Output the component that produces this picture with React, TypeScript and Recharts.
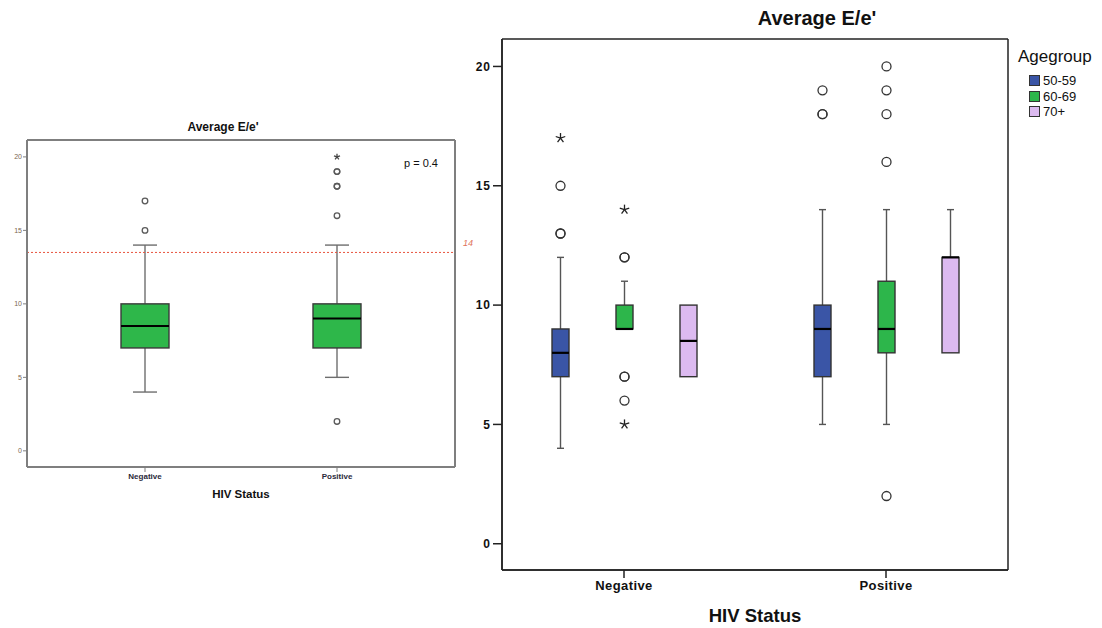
import React from 'react';
import { ComposedChart, Bar, XAxis, YAxis, ReferenceLine, CartesianGrid } from 'recharts';

// ---------- shared ----------
const hivCategories = ['Negative', 'Positive'];
const yTicks = [0, 5, 10, 15, 20];
const yDomain: [number, number] = [-1.1, 21.15];

// ---------- left chart (all ages) ----------
const allMin = [4, 5];
const allQ1 = [7, 7];
const allMedian = [8.5, 9];
const allQ3 = [10, 10];
const allMax = [14, 14];
const allOutliers = [[15, 17], [2, 16, 18, 18, 19, 19]];
const allExtremes = [[], [20]];
const cutoffValue = 13.5;
const cutoffLabel = '14';
const pValueText = 'p = 0.4';

// ---------- right chart (by age group) ----------
const ageGroups = ['50-59', '60-69', '70+'];
const ageColors = ['#3a55a6', '#2db64b', '#dcbaf0'];
// index: [ageGroup][hivCategory]
const ageMin = [[4, 5], [9, 5], [7, 8]];
const ageQ1 = [[7, 7], [9, 8], [7, 8]];
const ageMedian = [[8, 9], [9, 9], [8.5, 12]];
const ageQ3 = [[9, 10], [10, 11], [10, 12]];
const ageMax = [[12, 14], [11, 14], [10, 14]];
const ageOutliers = [
  [[13, 13, 15], [18, 18, 19]],
  [[6, 7, 7, 12, 12], [2, 16, 18, 19, 20]],
  [[], []],
];
const ageExtremes = [
  [[17], []],
  [[5, 14], []],
  [[], []],
];

const FONT = '"Liberation Sans", Arial, Helvetica, sans-serif';

type Stats = {
  min: number;
  q1: number;
  median: number;
  q3: number;
  max: number;
  outliers: number[];
  extremes: number[];
};

type BoxOpts = {
  fill: string;
  boxStroke: string;
  whiskerStroke: string;
  capWidth: number;
  circleR: number;
  circleStroke: string;
  starSize: number;
  starStroke: string;
  medianWidth: number;
};

const leftData = hivCategories.map((cat, i) => ({
  cat,
  range: [allMin[i], allMax[i]],
  stats: {
    min: allMin[i],
    q1: allQ1[i],
    median: allMedian[i],
    q3: allQ3[i],
    max: allMax[i],
    outliers: allOutliers[i],
    extremes: allExtremes[i],
  } as Stats,
}));

const rightData = hivCategories.map((cat, i) => {
  const row: any = { cat };
  ageGroups.forEach((_, j) => {
    row['range' + j] = [ageMin[j][i], ageMax[j][i]];
    row['stats' + j] = {
      min: ageMin[j][i],
      q1: ageQ1[j][i],
      median: ageMedian[j][i],
      q3: ageQ3[j][i],
      max: ageMax[j][i],
      outliers: ageOutliers[j][i],
      extremes: ageExtremes[j][i],
    } as Stats;
  });
  return row;
});

const Star = ({ cx, cy, size, stroke }: { cx: number; cy: number; size: number; stroke: string }) => {
  const arms = [0, 1, 2, 3, 4].map((k) => {
    const a = (-90 + k * 72) * (Math.PI / 180);
    return (
      <line
        key={k}
        x1={cx}
        y1={cy}
        x2={cx + size * Math.cos(a)}
        y2={cy + size * Math.sin(a)}
        stroke={stroke}
        strokeWidth={1.3}
      />
    );
  });
  return <g>{arms}</g>;
};

const makeBoxShape = (statsKey: string, o: BoxOpts) => (props: any) => {
  const { x, y, width, height, payload } = props;
  const s: Stats = payload[statsKey];
  if (!s) return <g />;
  const hi = s.max;
  const lo = s.min;
  const span = hi - lo;
  // map a value to pixels using the bar's own scaled extent
  const toY = (v: number) => (span === 0 ? y : y + (height * (hi - v)) / span);
  const cx = x + width / 2;
  const yQ1 = toY(s.q1);
  const yQ3 = toY(s.q3);
  const yMed = toY(s.median);
  const yMin = toY(s.min);
  const yMax = toY(s.max);
  const half = o.capWidth / 2;
  return (
    <g>
      {s.max > s.q3 && (
        <g>
          <line x1={cx} y1={yMax} x2={cx} y2={yQ3} stroke={o.whiskerStroke} strokeWidth={1.4} />
          <line x1={cx - half} y1={yMax} x2={cx + half} y2={yMax} stroke={o.whiskerStroke} strokeWidth={1.4} />
        </g>
      )}
      {s.min < s.q1 && (
        <g>
          <line x1={cx} y1={yQ1} x2={cx} y2={yMin} stroke={o.whiskerStroke} strokeWidth={1.4} />
          <line x1={cx - half} y1={yMin} x2={cx + half} y2={yMin} stroke={o.whiskerStroke} strokeWidth={1.4} />
        </g>
      )}
      <rect
        x={x}
        y={Math.min(yQ1, yQ3)}
        width={width}
        height={Math.abs(yQ1 - yQ3)}
        fill={o.fill}
        stroke={o.boxStroke}
        strokeWidth={1.4}
      />
      <line x1={x} y1={yMed} x2={x + width} y2={yMed} stroke="#000" strokeWidth={o.medianWidth} />
      {s.outliers.map((v, k) => (
        <circle key={'o' + k} cx={cx} cy={toY(v)} r={o.circleR} fill="none" stroke={o.circleStroke} strokeWidth={1.3} />
      ))}
      {s.extremes.map((v, k) => (
        <Star key={'e' + k} cx={cx} cy={toY(v)} size={o.starSize} stroke={o.starStroke} />
      ))}
    </g>
  );
};

const leftShape = makeBoxShape('stats', {
  fill: '#2eb74a',
  boxStroke: '#3a3a3a',
  whiskerStroke: '#6e6e6e',
  capWidth: 24,
  circleR: 2.8,
  circleStroke: '#5a5a5a',
  starSize: 3.2,
  starStroke: '#444',
  medianWidth: 2,
});

const CutoffLabel = (props: any) => {
  const vb = props.viewBox || {};
  return (
    <text
      x={(vb.x || 0) + (vb.width || 0) + 8}
      y={(vb.y || 0) - 6}
      fill="#e0735a"
      fontSize={9}
      fontStyle="italic"
      fontFamily={FONT}
    >
      {cutoffLabel}
    </text>
  );
};

// frame lines along the plot-area edges
const frameH = (p: any) => {
  const o = p.offset || {};
  return [o.top, o.top + o.height];
};
const frameV = (p: any) => {
  const o = p.offset || {};
  return [o.left, o.left + o.width];
};

const abs = (style: React.CSSProperties): React.CSSProperties => ({ position: 'absolute', fontFamily: FONT, ...style });

const centered = (cx: number, cy: number, style: React.CSSProperties, text: string) => (
  <div
    style={abs({
      left: cx,
      top: cy,
      transform: 'translate(-50%, -50%)',
      whiteSpace: 'nowrap',
      lineHeight: 1,
      ...style,
    })}
  >
    {text}
  </div>
);

export default function App() {
  const leftFrame = { stroke: '#7f7f7f', strokeWidth: 2 };
  const rightFrame = { stroke: '#222', strokeWidth: 1.5 };
  return (
    <div style={{ position: 'absolute', left: 0, top: 0, width: 1102, height: 628, background: '#fff', overflow: 'hidden' }}>
      {/* ---------------- left chart ---------------- */}
      <div style={abs({ left: 0, top: 110 })}>
        <ComposedChart width={480} height={400} data={leftData} margin={{ top: 30, right: 25, bottom: 0, left: 0 }}>
          <CartesianGrid
            stroke="#7f7f7f"
            strokeWidth={2}
            horizontalCoordinatesGenerator={frameH}
            verticalCoordinatesGenerator={frameV}
          />
          <XAxis
            dataKey="cat"
            type="category"
            padding={{ left: 22, right: 22 }}
            height={43}
            axisLine={leftFrame}
            tickLine={{ stroke: '#7f7f7f' }}
            tickSize={5}
            tickMargin={1}
            tick={{ fontSize: 8, fontWeight: 700, fill: '#2a2a3a', fontFamily: FONT }}
          />
          <YAxis
            domain={yDomain}
            ticks={yTicks}
            allowDataOverflow
            width={27}
            axisLine={leftFrame}
            tickLine={{ stroke: '#7f7f7f' }}
            tickSize={4}
            tickMargin={1}
            tick={{ fontSize: 7, fill: '#7a6650', fontFamily: FONT }}
          />
          <ReferenceLine
            y={cutoffValue}
            stroke="#e8533c"
            strokeDasharray="2 2"
            strokeWidth={1}
            label={<CutoffLabel />}
          />
          <Bar dataKey="range" barSize={48} shape={leftShape} isAnimationActive={false} />
        </ComposedChart>
      </div>
      {centered(223, 127, { fontSize: 12, fontWeight: 700, color: '#111' }, "Average E/e'")}
      {centered(421, 163, { fontSize: 11, color: '#111' }, pValueText)}
      {centered(241, 495, { fontSize: 11.5, fontWeight: 700, color: '#111' }, 'HIV Status')}

      {/* ---------------- right chart ---------------- */}
      <div style={abs({ left: 440, top: 0 })}>
        <ComposedChart
          width={600}
          height={628}
          data={rightData}
          barGap={47}
          margin={{ top: 39, right: 32, bottom: 0, left: 0 }}
        >
          <CartesianGrid
            stroke="#222"
            strokeWidth={1.5}
            horizontalCoordinatesGenerator={frameH}
            verticalCoordinatesGenerator={frameV}
          />
          <XAxis
            dataKey="cat"
            type="category"
            padding={{ left: -9, right: -9 }}
            height={58}
            axisLine={rightFrame}
            tickLine={{ stroke: '#222', strokeWidth: 1.5 }}
            tickSize={8}
            tickMargin={3}
            tick={{ fontSize: 13, fontWeight: 700, fill: '#111', fontFamily: FONT, letterSpacing: 0.4 }}
          />
          <YAxis
            domain={yDomain}
            ticks={yTicks}
            allowDataOverflow
            width={62}
            axisLine={rightFrame}
            tickLine={{ stroke: '#222', strokeWidth: 1.5 }}
            tickSize={9}
            tickMargin={2}
            tick={{ fontSize: 12, fontWeight: 700, fill: '#111', fontFamily: FONT, letterSpacing: 1 }}
          />
          {ageGroups.map((g, j) => (
            <Bar
              key={g}
              name={g}
              dataKey={'range' + j}
              barSize={17}
              isAnimationActive={false}
              shape={makeBoxShape('stats' + j, {
                fill: ageColors[j],
                boxStroke: '#333',
                whiskerStroke: '#555',
                capWidth: 7,
                circleR: 4.5,
                circleStroke: '#333',
                starSize: 5,
                starStroke: '#222',
                medianWidth: 2.2,
              })}
            />
          ))}
        </ComposedChart>
      </div>
      {centered(817, 18, { fontSize: 20, fontWeight: 700, color: '#111' }, "Average E/e'")}
      {centered(755, 616, { fontSize: 18.5, fontWeight: 700, color: '#111' }, 'HIV Status')}

      {/* legend */}
      <div style={abs({ left: 1018, top: 48, fontSize: 17, color: '#111', lineHeight: '18px' })}>Agegroup</div>
      {ageGroups.map((g, j) => (
        <div key={g} style={abs({ left: 1029, top: 74 + j * 15.5, height: 13, display: 'flex', alignItems: 'center' })}>
          <div
            style={{
              width: 11,
              height: 11,
              background: ageColors[j],
              border: '1px solid #333',
              boxSizing: 'border-box',
            }}
          />
          <span style={{ marginLeft: 3, fontSize: 13, color: '#111', lineHeight: '13px' }}>{g}</span>
        </div>
      ))}
    </div>
  );
}
